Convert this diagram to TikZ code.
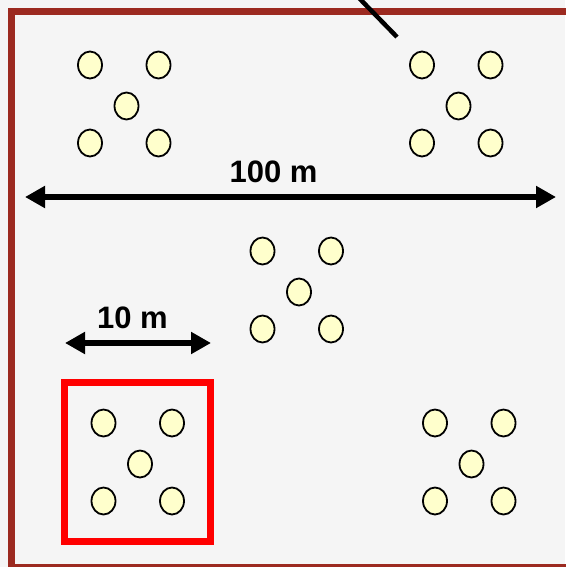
\documentclass[tikz,border=0pt]{standalone}
\usepackage{fontspec}
\setmainfont{Liberation Sans}
\usetikzlibrary{arrows.meta,shapes.geometric}

\definecolor{frameRed}{RGB}{156,42,32}
\definecolor{boxRed}{RGB}{255,0,0}
\definecolor{treeFill}{RGB}{255,255,204}
\definecolor{plotBg}{RGB}{245,245,245}

\tikzset{
    tree/.style={ellipse, draw=black, line width=1.8pt, fill=treeFill,
        minimum width=24pt, minimum height=27pt, inner sep=0pt},
    dimline/.style={line width=5.5pt, {Triangle[length=20pt,width=21pt]}-{Triangle[length=20pt,width=21pt]}},
    dimlabel/.style={font=\bfseries\fontsize{31}{31}\selectfont, inner sep=0pt}
}

\begin{document}
\begin{tikzpicture}[x=1pt,y=-1pt]

        \useasboundingbox (0,0) rectangle (565,567);
        \fill[plotBg] (0,0) rectangle (565,567);

        % plot border
        \draw[frameRed, line width=7pt] (11.5,11.5) rectangle (580,567.5);

        % sampling line
        \coordinate (lineTop) at (359,-2);
        \coordinate (lineEnd) at (397,37);
        \draw[line width=4.5pt] (lineTop) -- (lineEnd);

        % subplot
        \draw[boxRed, line width=7pt] (64.5,382.5) rectangle (210.5,541.5);

        % tree groups
        \foreach \g/\cx/\cy in {a/124.5/104, b/456.5/104, c/297/290,
                                d/138/462, e/469.5/462}{
            \begin{scope}[shift={(\cx,\cy)}]
                \node[tree] (\g1) at (-34.5,-39) {};
                \node[tree] (\g2) at (34,-39) {};
                \node[tree] (\g3) at (2,2) {};
                \node[tree] (\g4) at (-34.5,39) {};
                \node[tree] (\g5) at (34,39) {};
            \end{scope}
        }

        % dimensions
        \coordinate (bigL) at (25,197);
        \coordinate (bigR) at (556,197);
        \draw[dimline] (bigL) -- (bigR);
        \node[dimlabel] (bigLab) at (273.5,172) {100 m};

        \coordinate (smallL) at (65,343);
        \coordinate (smallR) at (211,343);
        \draw[dimline] (smallL) -- (smallR);
        \node[dimlabel] (smallLab) at (132.5,318) {10 m};
    \end{tikzpicture}
\end{document}
